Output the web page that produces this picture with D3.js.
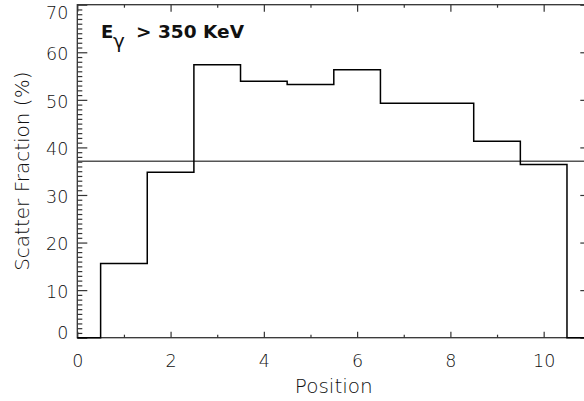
<!DOCTYPE html>
<html><head><meta charset="utf-8">
<script src="https://cdn.jsdelivr.net/npm/d3@7"></script>
<style>
  body { margin: 0; background: #fff; }
  text { font-family: "DejaVu Sans", sans-serif; fill: #111; }
  .light { font-weight: 200; }
</style>
</head><body>
<svg id="chart" width="584" height="401"></svg>
<script>
// Scatter fraction per detector position (padded with zero at both ends)
const positions = [0, 1, 2, 3, 4, 5, 6, 7, 8, 9, 10, 11];
const scatterFraction = [0, 15.6, 34.8, 57.4, 53.9, 53.2, 56.3, 49.3, 49.3, 41.3, 36.4, 0];
const referenceLevel = [37.1];
const xMajorTicks = [0, 2, 4, 6, 8, 10];
const xMinorTicks = [1, 3, 5, 7, 9, 11];
const yMajorTicks = [0, 10, 20, 30, 40, 50, 60, 70];
const yMinorTicks = d3.range(0, 71, 1).filter(v => v % 10 !== 0);

const svg = d3.select("#chart");
const plotLeft = 77.3, plotRight = 590.3, plotTop = 4.7, plotBottom = 337.7;

const x = d3.scaleLinear().domain([0, 11]).range([plotLeft, plotRight]);
const y = d3.scaleLinear().domain([0, 70]).range([plotBottom, plotTop]);

const axisColor = "#333";

// Frame
svg.append("rect")
  .attr("x", plotLeft).attr("y", plotTop)
  .attr("width", plotRight - plotLeft).attr("height", plotBottom - plotTop)
  .attr("fill", "none").attr("stroke", axisColor).attr("stroke-width", 1.3);

function styleAxis(g) {
  g.select(".domain").remove();
  g.selectAll(".tick line").attr("stroke", axisColor).attr("stroke-width", 1.2);
}

// Bottom axis with labels
svg.append("g").attr("transform", `translate(0,${plotBottom})`)
  .call(d3.axisBottom(x).tickValues(xMajorTicks).tickSizeInner(-6).tickSizeOuter(0).tickPadding(17).tickFormat(d3.format("d")))
  .call(styleAxis)
  .call(g => g.selectAll("text").attr("class", "light").attr("font-size", 17.5).attr("font-family", "DejaVu Sans").attr("fill", "#111"));
svg.append("g").attr("transform", `translate(0,${plotBottom})`)
  .call(d3.axisBottom(x).tickValues(xMinorTicks).tickSizeInner(-3).tickSizeOuter(0).tickFormat(""))
  .call(styleAxis);

// Top axis
svg.append("g").attr("transform", `translate(0,${plotTop})`)
  .call(d3.axisTop(x).tickValues(xMajorTicks).tickSizeInner(-7).tickSizeOuter(0).tickFormat(""))
  .call(styleAxis);
svg.append("g").attr("transform", `translate(0,${plotTop})`)
  .call(d3.axisTop(x).tickValues(xMinorTicks).tickSizeInner(-3).tickSizeOuter(0).tickFormat(""))
  .call(styleAxis);

// Left axis with labels (end labels nudged inside the frame)
const yLabelShift = d => d === 0 ? -6 : (d === 70 ? 7 : 1);
svg.append("g").attr("transform", `translate(${plotLeft},0)`)
  .call(d3.axisLeft(y).tickValues(yMajorTicks).tickSizeInner(-10).tickSizeOuter(0).tickPadding(9).tickFormat(d3.format("d")))
  .call(styleAxis)
  .call(g => g.selectAll("text")
    .attr("class", "light")
    .attr("font-size", 17.5).attr("font-family", "DejaVu Sans").attr("fill", "#111")
    .attr("dy", null)
    .attr("y", d => yLabelShift(d) + 6.3));
svg.append("g").attr("transform", `translate(${plotLeft},0)`)
  .call(d3.axisLeft(y).tickValues(yMinorTicks).tickSizeInner(-5).tickSizeOuter(0).tickFormat(""))
  .call(styleAxis);

// Right axis
svg.append("g").attr("transform", `translate(${plotRight},0)`)
  .call(d3.axisRight(y).tickValues(yMajorTicks).tickSizeInner(-10).tickSizeOuter(0).tickFormat(""))
  .call(styleAxis);
svg.append("g").attr("transform", `translate(${plotRight},0)`)
  .call(d3.axisRight(y).tickValues(yMinorTicks).tickSizeInner(-5).tickSizeOuter(0).tickFormat(""))
  .call(styleAxis);

// Reference level
svg.selectAll(".ref").data(referenceLevel).enter().append("line")
  .attr("class", "ref")
  .attr("x1", plotLeft).attr("x2", plotRight)
  .attr("y1", d => y(d)).attr("y2", d => y(d))
  .attr("stroke", "#555").attr("stroke-width", 1.4);

// Histogram step line
const step = d3.line()
  .x((d, i) => x(positions[i]))
  .y(d => y(d))
  .curve(d3.curveStep);
svg.append("path")
  .datum(scatterFraction)
  .attr("d", step)
  .attr("fill", "none")
  .attr("stroke", "#000")
  .attr("stroke-width", 1.5);

// Axis titles
svg.append("text")
  .attr("class", "light")
  .attr("x", x(5.5)).attr("y", 392.7)
  .attr("text-anchor", "middle")
  .attr("font-size", 20)
  .text("Position");

svg.append("text")
  .attr("class", "light")
  .attr("transform", `translate(29.3,${(plotTop + plotBottom) / 2}) rotate(-90)`)
  .attr("text-anchor", "middle")
  .attr("font-size", 20)
  .text("Scatter Fraction (%)");

// Energy threshold annotation
const note = svg.append("g");
note.append("text").attr("x", 101).attr("y", 38.3).attr("font-size", 18).attr("font-weight", "bold").text("E");
note.append("text").attr("x", 113).attr("y", 48).attr("font-size", 20).attr("font-weight", "normal").text("γ");
note.append("text").attr("x", 136).attr("y", 38.3).attr("font-size", 18).attr("font-weight", "bold")
  .attr("textLength", 108).attr("lengthAdjust", "spacingAndGlyphs")
  .text("> 350 KeV");
</script>
</body></html>
